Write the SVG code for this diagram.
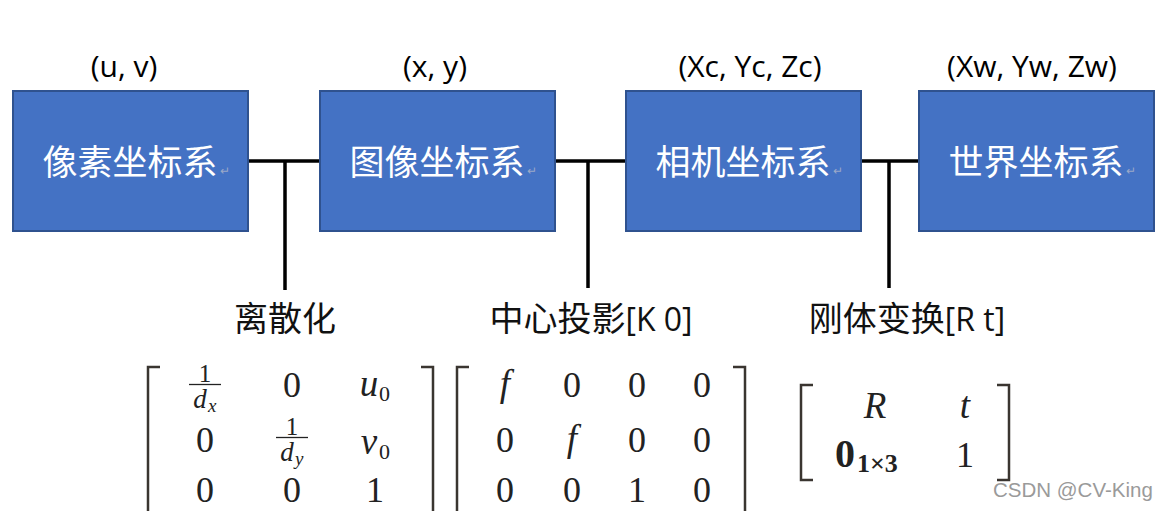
<svg xmlns="http://www.w3.org/2000/svg" width="1157" height="511" viewBox="0 0 1157 511">
<style>
.box{fill:#4472C4;stroke:#2F528F;stroke-width:2}
.bt{font-family:"Noto Sans CJK SC",sans-serif;font-size:35px;fill:#ffffff;text-anchor:middle}
.rt{font-family:"Liberation Sans",sans-serif;font-size:12px;fill:#9aa8c8}
.co{font-family:"Open Sans","Noto Sans",sans-serif;font-size:30px;fill:#000;text-anchor:middle}
.lb{font-family:"Noto Sans CJK SC",sans-serif;font-size:34px;fill:#111;text-anchor:middle}
.lbs{font-family:"Open Sans","Noto Sans",sans-serif;font-size:32px}
.ln{stroke:#000;stroke-width:3.5;fill:none}
.br{stroke:#3a3530;stroke-width:2.5;fill:none}
.m{font-family:"Liberation Serif",serif;font-size:36px;fill:#222;text-anchor:middle}
.mi{font-family:"Liberation Serif",serif;font-style:italic;font-size:37px;fill:#222;text-anchor:middle}
.ms{font-family:"Liberation Serif",serif;font-size:25px;fill:#222;text-anchor:middle}
.msi{font-family:"Liberation Serif",serif;font-style:italic;font-size:27px;fill:#222;text-anchor:middle}
.sub{font-family:"Liberation Serif",serif;font-size:22px;fill:#222}
.subi{font-family:"Liberation Serif",serif;font-style:italic;font-size:19px;fill:#222}
.b0{font-family:"Liberation Serif",serif;font-weight:bold;font-size:40px;fill:#222;text-anchor:middle}
.bsub{font-family:"Liberation Serif",serif;font-weight:bold;font-size:26px;fill:#222}
.wm{font-family:"Liberation Sans",sans-serif;font-size:20.5px;fill:#9a9a9a}
</style>
<rect width="1157" height="511" fill="#ffffff"/>
<g id="connectors">
<path class="ln" d="M248 161H320M285 161V290"/>
<path class="ln" d="M555 161H626M588 161V288"/>
<path class="ln" d="M861 161H919M889 161V288"/>
</g>
<g id="node-pixel">
<rect class="box" x="13" y="91" width="235" height="140"/>
<text class="bt" x="130" y="175">像素坐标系</text>
<text class="rt" x="220" y="175">↵</text>
<text class="co" x="124" y="77">(u, v)</text>
</g>
<g id="node-image">
<rect class="box" x="320" y="91" width="235" height="140"/>
<text class="bt" x="437" y="175">图像坐标系</text>
<text class="rt" x="527" y="175">↵</text>
<text class="co" x="435" y="77">(x, y)</text>
</g>
<g id="node-camera">
<rect class="box" x="626" y="91" width="235" height="140"/>
<text class="bt" x="743" y="175">相机坐标系</text>
<text class="rt" x="833" y="175">↵</text>
<text class="co" x="750" y="77">(Xc, Yc, Zc)</text>
</g>
<g id="node-world">
<rect class="box" x="919" y="91" width="235" height="140"/>
<text class="bt" x="1036" y="175">世界坐标系</text>
<text class="rt" x="1126" y="175">↵</text>
<text class="co" x="1032" y="77">(Xw, Yw, Zw)</text>
</g>
<g id="labels">
<text class="lb" x="285" y="331">离散化</text>
<text class="lb" x="591" y="331">中心投影<tspan class="lbs">[K 0]</tspan></text>
<text class="lb" x="907" y="331">刚体变换<tspan class="lbs">[R t]</tspan></text>
</g>
<g id="matrix1">
<path class="br" d="M160 367H148V515M421 367H433V515"/>
<text class="ms" x="205" y="382">1</text>
<path d="M189 384.5H221" stroke="#222" stroke-width="1.3"/>
<text class="msi" x="200" y="408">d</text><text class="subi" x="208" y="412">x</text>
<text class="m" x="292" y="397">0</text>
<text class="mi" x="369" y="396">u</text><text class="sub" x="379" y="401">0</text>
<text class="m" x="205" y="452">0</text>
<text class="ms" x="292" y="435">1</text>
<path d="M276 437.5H308" stroke="#222" stroke-width="1.3"/>
<text class="msi" x="287" y="461">d</text><text class="subi" x="295" y="465">y</text>
<text class="mi" x="369" y="454">v</text><text class="sub" x="379" y="459">0</text>
<text class="m" x="205" y="502">0</text>
<text class="m" x="292" y="502">0</text>
<text class="m" x="375" y="502">1</text>
</g>
<g id="matrix2">
<path class="br" d="M469 367H457V515M733 367H745V515"/>
<text class="mi" x="505" y="396">f</text>
<text class="m" x="572" y="397">0</text>
<text class="m" x="637" y="397">0</text>
<text class="m" x="702" y="397">0</text>
<text class="m" x="505" y="452">0</text>
<text class="mi" x="572" y="451">f</text>
<text class="m" x="637" y="452">0</text>
<text class="m" x="702" y="452">0</text>
<text class="m" x="505" y="502">0</text>
<text class="m" x="572" y="502">0</text>
<text class="m" x="637" y="502">1</text>
<text class="m" x="702" y="502">0</text>
</g>
<g id="matrix3">
<path class="br" d="M813 385H801V480H813M997 385H1009V480H997"/>
<text class="mi" x="875" y="418">R</text>
<text class="mi" x="965" y="418">t</text>
<text class="b0" x="845" y="467">0</text>
<text class="bsub" x="857" y="472">1×3</text>
<text class="m" x="965" y="467">1</text>
</g>
<text class="wm" x="993" y="497">CSDN @CV-King</text>
</svg>
